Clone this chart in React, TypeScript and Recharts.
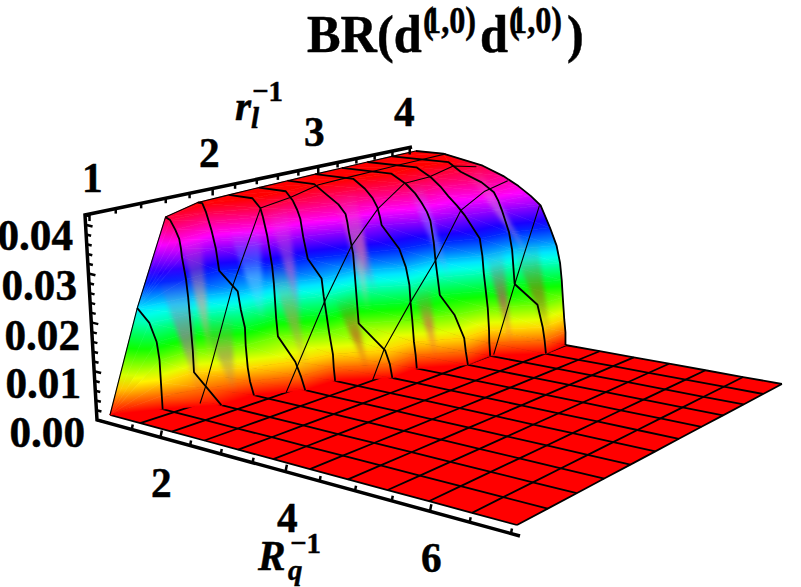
import React from "react";
import { ScatterChart, Scatter, XAxis, YAxis } from "recharts";

const WIDTH = 801;
const HEIGHT = 587;

// Rq^-1 and rl^-1 of the twelve mesh lines in each direction
const RQ_MESH = [1, 1.545, 2.091, 2.636, 3.182, 3.727, 4.273, 4.818, 5.364, 5.909, 6.455, 7];
const RL_MESH = [1, 1.273, 1.545, 1.818, 2.091, 2.364, 2.636, 2.909, 3.182, 3.455, 3.727, 4];

// BR levels down the wall, one column per level (first = the top at Rq^-1 = 1)
const LEVELS = [0.042, 0.042, 0.04, 0.038, 0.036, 0.034, 0.032, 0.027, 0.023, 0.019, 0.015, 0.011, 0.006, 0.003, 0];

// Rq^-1 where each rl^-1 mesh line reaches the level above
const WALL_RQ = [
  [1, 1, 1, 1, 1, 1, 1, 1, 1, 1, 1, 1, 1, 1, 1],
  [1, 1, 1, 1, 1, 1, 1, 1, 1, 1.2, 1.31, 1.34, 1.34, 1.34, 1.34],
  [1, 1, 1.08, 1.16, 1.22, 1.24, 1.25, 1.3, 1.32, 1.33, 1.34, 1.35, 1.35, 1.58, 1.81],
  [1, 1.08, 1.14, 1.18, 1.22, 1.25, 1.28, 1.32, 1.63, 1.67, 1.73, 1.73, 1.75, 1.78, 1.84],
  [1, 1.41, 1.54, 1.58, 1.61, 1.64, 1.66, 1.71, 1.73, 1.74, 1.75, 1.77, 2.06, 2.15, 2.22],
  [1, 1.47, 1.59, 1.66, 1.71, 1.73, 1.75, 1.82, 2.05, 2.08, 2.12, 2.16, 2.22, 2.23, 2.25],
  [1, 1.47, 1.67, 1.88, 2.0, 2.03, 2.05, 2.12, 2.14, 2.16, 2.18, 2.2, 2.65, 2.73, 2.77],
  [1, 1.67, 1.87, 2.0, 2.08, 2.12, 2.15, 2.45, 2.56, 2.62, 2.64, 2.67, 2.7, 2.73, 2.75],
  [1, 1.87, 2.12, 2.28, 2.39, 2.48, 2.54, 2.6, 2.63, 2.67, 2.71, 2.96, 3.13, 3.16, 3.2],
  [1, 1.87, 2.12, 2.29, 2.42, 2.57, 2.7, 2.96, 3.01, 3.04, 3.08, 3.12, 3.15, 3.16, 3.18],
  [1, 2.01, 2.22, 2.58, 2.79, 2.87, 2.93, 3.06, 3.12, 3.15, 3.18, 3.57, 3.67, 3.71, 3.74],
  [1, 1.5, 2.2, 2.56, 2.82, 3.03, 3.2, 3.37, 3.49, 3.56, 3.6, 3.63, 3.67, 3.7, 3.71],
];

// the first mesh lines start lower than the top level
const WALL_BR_0 = [0, 0, 0, 0, 0, 0, 0, 0, 0, 0, 0, 0, 0, 0, 0];
const WALL_BR_1 = [0.0218, 0.0218, 0.0218, 0.0218, 0.0218, 0.0218, 0.0218, 0.0218, 0.0218, 0.019, 0.015, 0.011, 0.006, 0.003, 0];
const WALL_BR_2 = [0.0405, 0.0405, 0.04, 0.038, 0.036, 0.034, 0.032, 0.027, 0.023, 0.019, 0.015, 0.011, 0.006, 0.003, 0];

// Rq^-1 mesh lines climbing the wall: position along rl^-1 (mesh index) and BR
const CLIMB_0_J = [0, 1, 2, 3, 4, 5, 6, 7, 8, 9, 10, 11];
const CLIMB_0_BR = [0, 0.0218, 0.0405, 0.042, 0.042, 0.042, 0.042, 0.042, 0.042, 0.042, 0.042, 0.042];
const CLIMB_1_J = [1.8, 2, 3, 4, 5, 6, 7, 8, 9, 10, 11];
const CLIMB_1_BR = [0, 0.0034, 0.024, 0.04, 0.0407, 0.042, 0.042, 0.042, 0.042, 0.042, 0.042];
const CLIMB_2_J = [3.6, 4, 5, 6, 7, 8, 9, 10, 11];
const CLIMB_2_BR = [0, 0.005, 0.0177, 0.0287, 0.0357, 0.04, 0.04, 0.0412, 0.0396];
const CLIMB_3_J = [5.55, 6, 7, 8, 9, 10, 11];
const CLIMB_3_BR = [0, 0.0063, 0.015, 0.023, 0.033, 0.036, 0.037];
const CLIMB_4_J = [9.15, 10, 11];
const CLIMB_4_BR = [0, 0.015, 0.032];

// pale streaks left by the renderer's colour interpolation between mesh lines
const STREAK_J = [1.75, 2.35, 2.5, 3.6, 4.2, 4.5, 5.6, 6.2, 6.4, 7.4, 8.3, 9.4, 10.3, 10.5];
const STREAK_LOW = [0.002, 0.006, 0.001, 0.014, 0.002, 0.012, 0.001, 0.012, 0.016, 0.001, 0.016, 0.001, 0.002, 0.018];
const STREAK_HIGH = [0.028, 0.036, 0.018, 0.036, 0.028, 0.04, 0.018, 0.036, 0.04, 0.018, 0.04, 0.024, 0.024, 0.04];
const STREAK_COLOR = ["#c050c0", "#ff9a80", "#a08070", "#70c8ff", "#c09060", "#d060d0", "#c03030", "#ffb0a0", "#e060b0", "#e04060", "#9090ff", "#e02080", "#a06020", "#d0a0d0"];

const BR_MAX = 0.042;
const RQ_TICKS = [1.5, 2, 2.5, 3, 3.5, 4, 4.5, 5, 5.5, 6, 6.5, 7];
const RL_TICKS = [1, 1.2, 1.4, 1.6, 1.8, 2, 2.2, 2.4, 2.6, 2.8, 3, 3.2, 3.4, 3.6, 3.8, 4];
const BR_TICKS = [0, 0.002, 0.004, 0.006, 0.008, 0.01, 0.012, 0.014, 0.016, 0.018, 0.02, 0.022, 0.024, 0.026, 0.028, 0.03, 0.032, 0.034, 0.036, 0.038, 0.04, 0.042];

const wallBr = (j: number) => (j === 0 ? WALL_BR_0 : j === 1 ? WALL_BR_1 : j === 2 ? WALL_BR_2 : LEVELS);

// camera: floor homography from the four floor corners, then a leaning vertical
const G = -0.1951;
const H = 0.2499;
const project = (rq: number, rl: number, br: number) => {
  const u = (rq - 1) / 6;
  const v = (rl - 1) / 3;
  const w = G * u + H * v + 1;
  const fx = (306.1 * u + 408.7 * v + 110) / w;
  const fy = ((525 * (1 + G) - 415) * u + (318 * (1 + H) - 415) * v + 415) / w;
  const t = br / BR_MAX;
  return {
    x: fx + 0.05 * (fx - 400) * t,
    y: fy - (187 - 20 * v + 25 * u) * t,
  };
};

const hue = (t: number) => `hsl(${Math.round(360 * t)},100%,50%)`;

type Vertex = { x: number; y: number; t: number };

const makeTri = (a: Vertex, b: Vertex, c: Vertex) => ({ x: a.x, y: a.y, verts: [a, b, c] });

const vertex = (j: number, k: number): Vertex => {
  const br = wallBr(j)[k];
  const p = project(WALL_RQ[j][k], RL_MESH[j], br);
  return { x: p.x, y: p.y, t: br / BR_MAX };
};

// back rows first, so the nearer part of the wall paints over
const wallTris: { x: number; y: number; verts: Vertex[] }[] = [];
for (let j = RL_MESH.length - 2; j >= 0; j--) {
  for (let k = 0; k < LEVELS.length - 1; k++) {
    const a = vertex(j, k);
    const b = vertex(j + 1, k);
    const c = vertex(j + 1, k + 1);
    const d = vertex(j, k + 1);
    wallTris.push(makeTri(a, b, c));
    wallTris.push(makeTri(a, c, d));
  }
}

let gradId = 0;
const GouraudTri = (props: any) => {
  const { cx, cy, payload } = props;
  if (cx == null || !payload) return <g />;
  const [a, b, c] = payload.verts as Vertex[];
  const dx = cx - a.x;
  const dy = cy - a.y;
  const pts = `${a.x + dx},${a.y + dy} ${b.x + dx},${b.y + dy} ${c.x + dx},${c.y + dy}`;
  // t is linear over a triangle, so a linear gradient along grad(t) is exact
  const ux = b.x - a.x, uy = b.y - a.y, vx = c.x - a.x, vy = c.y - a.y;
  const det = ux * vy - vx * uy;
  const ds = b.t - a.t, dr = c.t - a.t;
  const tmin = Math.min(a.t, b.t, c.t);
  const tmax = Math.max(a.t, b.t, c.t);
  if (Math.abs(det) < 1e-6) return <g />;
  const gx = (ds * vy - dr * uy) / det;
  const gy = (dr * ux - ds * vx) / det;
  const g2 = gx * gx + gy * gy;
  if (tmax - tmin < 1e-4 || g2 < 1e-12) {
    return <polygon points={pts} fill={hue(a.t)} stroke={hue(a.t)} strokeWidth={0.6} />;
  }
  const x1 = a.x + dx + ((tmin - a.t) * gx) / g2;
  const y1 = a.y + dy + ((tmin - a.t) * gy) / g2;
  const x2 = a.x + dx + ((tmax - a.t) * gx) / g2;
  const y2 = a.y + dy + ((tmax - a.t) * gy) / g2;
  const n = Math.ceil((tmax - tmin) * 12) + 1;
  const id = `g${props.index}-${gradId++}`;
  return (
    <g>
      <defs>
        <linearGradient id={id} gradientUnits="userSpaceOnUse" x1={x1} y1={y1} x2={x2} y2={y2}>
          {Array.from({ length: n + 1 }, (_, i) => (
            <stop key={i} offset={i / n} stopColor={hue(tmin + ((tmax - tmin) * i) / n)} />
          ))}
        </linearGradient>
      </defs>
      <polygon points={pts} fill={`url(#${id})`} stroke={`url(#${id})`} strokeWidth={0.6} />
    </g>
  );
};

// a point on the wall between two mesh lines, for placing the streaks
const wallPoint = (jf: number, br: number) => {
  const j = Math.min(Math.floor(jf), RL_MESH.length - 2);
  const f = jf - j;
  const rqAt = (row: number) => {
    const brs = wallBr(row);
    for (let k = brs.length - 1; k > 0; k--) {
      if (brs[k - 1] >= br && brs[k - 1] !== brs[k]) {
        const w = (br - brs[k]) / (brs[k - 1] - brs[k]);
        return WALL_RQ[row][k] + (WALL_RQ[row][k - 1] - WALL_RQ[row][k]) * w;
      }
    }
    return 1;
  };
  const rq = rqAt(j) * (1 - f) + rqAt(j + 1) * f;
  return project(rq, 1 + (jf * 3) / 11, br);
};

const streakData = STREAK_J.map((jf, i) => {
  const low = wallPoint(jf, STREAK_LOW[i]);
  const left = wallPoint(jf - 0.3, STREAK_HIGH[i]);
  const right = wallPoint(jf + 0.3, STREAK_HIGH[i]);
  return { x: low.x, y: low.y, left, right, low, color: STREAK_COLOR[i] };
});

const Streak = (props: any) => {
  const { cx, cy, payload, index } = props;
  if (cx == null) return <g />;
  const { left, right, low, color } = payload;
  const dx = cx - low.x;
  const dy = cy - low.y;
  const id = `streak${index}`;
  return (
    <g>
      <defs>
        <linearGradient id={id} gradientUnits="userSpaceOnUse" x1={cx} y1={cy} x2={(left.x + right.x) / 2 + dx} y2={(left.y + right.y) / 2 + dy}>
          <stop offset={0} stopColor={color} stopOpacity={0} />
          <stop offset={0.5} stopColor={color} stopOpacity={0.55} />
          <stop offset={1} stopColor={color} stopOpacity={0} />
        </linearGradient>
      </defs>
      <polygon
        points={`${cx},${cy} ${left.x + dx},${left.y + dy} ${right.x + dx},${right.y + dy}`}
        fill={`url(#${id})`}
        style={{ filter: "blur(2px)" }}
      />
    </g>
  );
};

const floorCorners = [project(1, 1, 0), project(7, 1, 0), project(7, 4, 0), project(1, 4, 0)];
const FloorPoly = (props: any) => {
  const { cx, cy } = props;
  if (cx == null) return <g />;
  const c = floorCorners;
  const dx = cx - c[0].x;
  const dy = cy - c[0].y;
  return <polygon points={c.map((p) => `${p.x + dx},${p.y + dy}`).join(" ")} fill="#ff0000" />;
};

const noDot = () => <g />;

// box edges
const BOX_LEFT = { x: 97, y: 420 };
const BOX_RIGHT = { x: 520, y: 536 };
const BOX_TOP = { x: 85, y: 215 };
const BOX_BACK = { x: 412, y: 147 };
const boxLine = [BOX_RIGHT, BOX_LEFT, BOX_TOP, BOX_BACK];

const rqTickData = RQ_TICKS.map((rq) => {
  const x = project(rq, 1, 0).x - 6;
  const y = BOX_LEFT.y + ((BOX_RIGHT.y - BOX_LEFT.y) * (x - BOX_LEFT.x)) / (BOX_RIGHT.x - BOX_LEFT.x);
  return { x, y, len: Number.isInteger(rq / 2) ? 7 : 5, dirX: 0.2, dirY: -1 };
});
const rlTickData = RL_TICKS.map((rl) => {
  const x = project(1, rl, BR_MAX).x - 6;
  const y = BOX_TOP.y + ((BOX_BACK.y - BOX_TOP.y) * (x - BOX_TOP.x)) / (BOX_BACK.x - BOX_TOP.x);
  return { x, y, len: Math.abs(rl - Math.round(rl)) < 0.01 ? 7 : 5, dirX: 0, dirY: 1 };
});
const brTickData = BR_TICKS.map((br) => {
  const t = br / BR_MAX;
  return {
    x: BOX_LEFT.x + (BOX_TOP.x - BOX_LEFT.x) * t,
    y: BOX_LEFT.y + (BOX_TOP.y - BOX_LEFT.y) * t,
    len: Math.round(br * 1000) % 10 === 0 ? 7 : 5,
    dirX: 1,
    dirY: 0.25,
  };
});
const tickData = [...rqTickData, ...rlTickData, ...brTickData];

const TickMark = (props: any) => {
  const { cx, cy, payload } = props;
  if (cx == null) return <g />;
  return (
    <line x1={cx} y1={cy} x2={cx + payload.dirX * payload.len} y2={cy + payload.dirY * payload.len} stroke="#000" strokeWidth={2.5} />
  );
};

// text
const SERIF = "'Liberation Serif', 'Times New Roman', serif";
const labelData = [
  { x: 307, y: 52, text: "BR(d", size: 53, sx: 0.95 },
  { x: 423, y: 33, text: "(", size: 38, sx: 0.85 },
  { x: 425, y: 33, text: "1,0)", size: 38, sx: 0.85 },
  { x: 480, y: 52, text: "d", size: 53, sx: 0.95 },
  { x: 509, y: 33, text: "(", size: 38, sx: 0.85 },
  { x: 511, y: 33, text: "1,0)", size: 38, sx: 0.85 },
  { x: 567, y: 52, text: ")", size: 53, sx: 0.95 },
  { x: 82, y: 192, text: "1", size: 43 },
  { x: 199, y: 167, text: "2", size: 43 },
  { x: 304, y: 146, text: "3", size: 43 },
  { x: 394, y: 126, text: "4", size: 43 },
  { x: 235, y: 120, text: "r", size: 43, italic: true },
  { x: 251, y: 128, text: "l", size: 30, italic: true },
  { x: 252, y: 101, text: "−1", size: 30 },
  { x: 73, y: 250, text: "0.04", size: 45, end: true },
  { x: 77, y: 300, text: "0.03", size: 45, end: true },
  { x: 80, y: 350, text: "0.02", size: 45, end: true },
  { x: 81, y: 398, text: "0.01", size: 45, end: true },
  { x: 85, y: 447, text: "0.00", size: 45, end: true },
  { x: 151, y: 497, text: "2", size: 43 },
  { x: 277, y: 532, text: "4", size: 43 },
  { x: 421, y: 572, text: "6", size: 43 },
  { x: 258, y: 570, text: "R", size: 43, italic: true },
  { x: 288, y: 580, text: "q", size: 30, italic: true },
  { x: 290, y: 553, text: "−1", size: 30 },
];

const Label = (props: any) => {
  const { cx, cy, payload } = props;
  if (cx == null) return <g />;
  return (
    <text
      transform={`translate(${cx},${cy}) scale(${payload.sx ?? 0.96},1)`}
      fontFamily={SERIF}
      fontWeight="bold"
      fontStyle={payload.italic ? "italic" : "normal"}
      fontSize={payload.size}
      textAnchor={payload.end ? "end" : "start"}
      fill="#000"
      stroke="#000"
      strokeWidth={0.5}
    >
      {payload.text}
    </text>
  );
};

const floorRowLine = (rl: number) => RQ_MESH.map((rq) => project(rq, rl, 0));
const floorColLine = (rq: number) => RL_MESH.map((rl) => project(rq, rl, 0));
const wallRowLine = (j: number) => WALL_RQ[j].map((rq, k) => project(rq, RL_MESH[j], wallBr(j)[k]));
const climbLine = (rq: number, js: number[], brs: number[]) =>
  js.map((j, k) => project(rq, 1 + (j * 3) / 11, brs[k]));

const meshLine = { stroke: "#000", strokeWidth: 1.8, strokeLinejoin: "round" as const };
const thinLine = { stroke: "#000", strokeWidth: 1.1, strokeLinejoin: "round" as const };

export default function App() {
  return (
    <div style={{ position: "absolute", left: 0, top: 0, width: WIDTH, height: HEIGHT, background: "#fff" }}>
      <ScatterChart width={WIDTH} height={HEIGHT} margin={{ top: 0, right: 0, bottom: 0, left: 0 }}>
        <XAxis type="number" dataKey="x" domain={[0, WIDTH]} hide />
        <YAxis type="number" dataKey="y" domain={[0, HEIGHT]} reversed hide width={0} />

        <Scatter data={[floorCorners[0]]} shape={FloorPoly} isAnimationActive={false} />
        {RL_MESH.map((rl) => (
          <Scatter key={`fr${rl}`} data={floorRowLine(rl)} line={meshLine} shape={noDot} isAnimationActive={false} />
        ))}
        {RQ_MESH.map((rq) => (
          <Scatter key={`fc${rq}`} data={floorColLine(rq)} line={meshLine} shape={noDot} isAnimationActive={false} />
        ))}

        <Scatter data={wallTris} shape={GouraudTri} isAnimationActive={false} />
        <Scatter data={streakData} shape={Streak} isAnimationActive={false} />

        {RL_MESH.slice(1).map((rl, j) => (
          <Scatter key={`wr${rl}`} data={wallRowLine(j + 1)} line={meshLine} shape={noDot} isAnimationActive={false} />
        ))}
        <Scatter data={climbLine(RQ_MESH[0], CLIMB_0_J, CLIMB_0_BR)} line={thinLine} shape={noDot} isAnimationActive={false} />
        <Scatter data={climbLine(RQ_MESH[1], CLIMB_1_J, CLIMB_1_BR)} line={thinLine} shape={noDot} isAnimationActive={false} />
        <Scatter data={climbLine(RQ_MESH[2], CLIMB_2_J, CLIMB_2_BR)} line={thinLine} shape={noDot} isAnimationActive={false} />
        <Scatter data={climbLine(RQ_MESH[3], CLIMB_3_J, CLIMB_3_BR)} line={thinLine} shape={noDot} isAnimationActive={false} />
        <Scatter data={climbLine(RQ_MESH[4], CLIMB_4_J, CLIMB_4_BR)} line={thinLine} shape={noDot} isAnimationActive={false} />

        <Scatter data={boxLine} line={{ stroke: "#000", strokeWidth: 3.5 }} shape={noDot} isAnimationActive={false} />
        <Scatter data={tickData} shape={TickMark} isAnimationActive={false} />
        <Scatter data={labelData} shape={Label} isAnimationActive={false} />
      </ScatterChart>
    </div>
  );
}
